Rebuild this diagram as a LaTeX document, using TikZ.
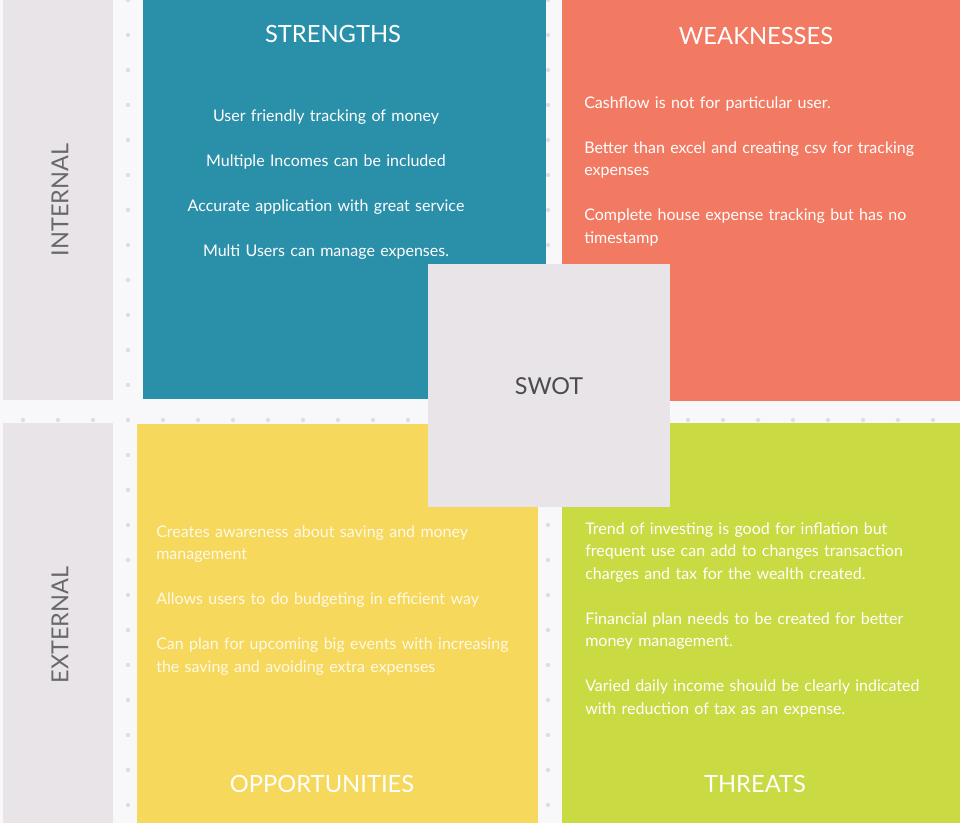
\documentclass[tikz,border=0pt]{standalone}
\usepackage{fontspec}
\setmainfont{Lato}
\definecolor{swotbg}{RGB}{248,248,250}
\definecolor{swotdot}{RGB}{222,222,226}
\definecolor{swotgray}{RGB}{232,228,232}
\definecolor{swotteal}{RGB}{42,144,170}
\definecolor{swotred}{RGB}{242,122,98}
\definecolor{swotyellow}{RGB}{246,216,92}
\definecolor{swotgreen}{RGB}{201,218,66}
\definecolor{sidetext}{RGB}{105,105,105}

\begin{document}
\begin{tikzpicture}[x=0.75pt,y=-0.75pt,
    title/.style={white, font=\fontsize{17.8}{21}\selectfont},
    body/.style={white, font=\fontsize{12}{16.9}\selectfont, inner sep=0pt,
      anchor=north west, text width=300pt, align=left},
    side/.style={sidetext, rotate=90, font=\fontsize{17.6}{21}\selectfont}]
    \useasboundingbox (0,0) rectangle (960,823);
    \fill[swotbg] (0,0) rectangle (960,823);
    % dotted grid
    \foreach \i in {0,...,27}
        \foreach \j in {0,...,23}
            \fill[swotdot] (23+35*\i,35*\j) circle (1.6pt);
    % side bars
    \fill[swotgray] (3,0) rectangle (113,400);
    \fill[swotgray] (3,423) rectangle (113,823);
    \node[side] (internal) at (60,200) {INTERNAL};
    \node[side] (external) at (60,625) {EXTERNAL};
    % quadrants
    \fill[swotteal] (143,0) rectangle (546,399);
    \fill[swotred] (562,0) rectangle (960,401);
    \fill[swotyellow] (137,424) rectangle (538,823);
    \fill[swotgreen] (562,423) rectangle (960,823);
    \node[title] (strengths) at (333,34) {STRENGTHS};
    \node[title] (weaknesses) at (756,36) {WEAKNESSES};
    \node[title] (opportunities) at (322,784) {OPPORTUNITIES};
    \node[title] (threats) at (755,784) {THREATS};
    \node[body, anchor=north, text width=280pt, align=center] (stext) at (326,109) {%
        User friendly tracking of money\\[16.9pt]
        Multiple Incomes can be included\\[16.9pt]
        Accurate application with great service\\[16.9pt]
        Multi Users can manage expenses.};
    \node[body] (wtext) at (584,96) {%
        Cashflow is not for particular user.\\[16.9pt]
        Better than excel and creating csv for tracking\\
        expenses\\[16.9pt]
        Complete house expense tracking but has no\\
        timestamp};
    \node[body, text=white!85!swotyellow] (otext) at (156,525) {%
        Creates awareness about saving and money\\
        management\\[16.9pt]
        Allows users to do budgeting in efficient way\\[16.9pt]
        Can plan for upcoming big events with increasing\\
        the saving and avoiding extra expenses};
    \node[body] (ttext) at (585,522) {%
        Trend of investing is good for inflation but\\
        frequent use can add to changes transaction\\
        charges and tax for the wealth created.\\[16.9pt]
        Financial plan needs to be created for better\\
        money management.\\[16.9pt]
        Varied daily income should be clearly indicated\\
        with reduction of tax as an expense.};
    % centre square
    \fill[swotgray] (428,264) rectangle (670,507);
    \node[text=black!70, font=\fontsize{17.5}{21}\selectfont] (swot) at (549,386) {SWOT};
\end{tikzpicture}
\end{document}
